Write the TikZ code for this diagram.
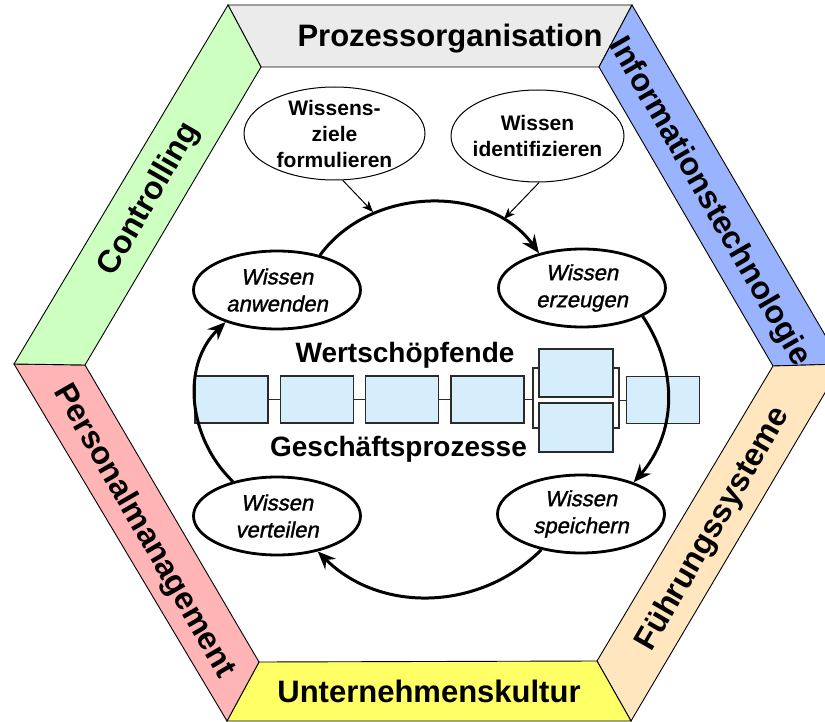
\documentclass[tikz,border=0pt]{standalone}
\usepackage{fontspec}
\setmainfont{Liberation Sans}
\newfontfamily\wisfont[FakeSlant=0.2,FakeBold=1.3]{Liberation Sans}
\usetikzlibrary{shapes.geometric,arrows.meta}
\definecolor{bandgray}{HTML}{EBEBEB}
\definecolor{bandblue}{HTML}{99B3FF}
\definecolor{bandpeach}{HTML}{FFE6BF}
\definecolor{bandyellow}{HTML}{FFFF66}
\definecolor{bandpink}{HTML}{FFB5B5}
\definecolor{bandgreen}{HTML}{CCFFC0}
\definecolor{procblue}{HTML}{D6EEFC}
\definecolor{procedge}{HTML}{2A2A2A}
\begin{document}
\begin{tikzpicture}[x=1pt,y=-1pt,
  band/.style={draw=black, line width=0.9pt, line join=miter},
  bandlabel/.style={font=\fontsize{31}{31}\selectfont\bfseries, text height=22pt, text depth=0pt, inner sep=0pt},
  sidelabel/.style={bandlabel, font=\fontsize{32}{32}\selectfont\bfseries},
  procbox/.style={draw=procedge, fill=procblue, line width=1.3pt, rectangle, inner sep=0pt, minimum width=73pt, minimum height=47pt},
  bracketbox/.style={draw=procedge, fill=white, line width=1.3pt, rectangle, inner sep=0pt},
  plink/.style={draw=procedge, line width=1pt},
  midtext/.style={font=\fontsize{28}{28}\selectfont\bfseries, inner sep=0pt, anchor=base},
  topell/.style={draw=black, fill=white, ellipse, line width=1pt, inner sep=0pt},
  toptext/.style={font=\fontsize{21}{26}\selectfont\bfseries, align=center, inner sep=0pt},
  wisell/.style={draw=black, fill=white, ellipse, line width=2.8pt, inner sep=0pt, minimum width=167pt, minimum height=78pt},
  wistext/.style={font=\fontsize{22}{27}\selectfont\wisfont, align=center, inner sep=0pt},
  cyc/.style={line width=3pt, -{Stealth[length=18pt, width=15pt, inset=6pt]}},
  thinarrow/.style={line width=1pt, -{Stealth[length=11pt, width=9pt, inset=3pt]}}
]
\useasboundingbox (0,0) rectangle (825,722);
\clip (0,0) rectangle (825,722);

% hexagon vertices
\coordinate (oTL) at (228,5);
\coordinate (oTR) at (632,5);
\coordinate (oR)  at (842,364);
\coordinate (oBR) at (631,721);
\coordinate (oBL) at (227,721);
\coordinate (oL)  at (14,364);
\coordinate (iTL) at (261,67);
\coordinate (iTR) at (599,67);
\coordinate (iR)  at (773,366);
\coordinate (iBR) at (597,661);
\coordinate (iBL) at (259,662);
\coordinate (iL)  at (85,365);

% bands
\draw[band, fill=bandgray]   (oTL) -- (oTR) -- (iTR) -- (iTL) -- cycle;
\draw[band, fill=bandblue]   (oTR) -- (oR) -- (iR) -- (iTR) -- cycle;
\draw[band, fill=bandpeach]  (oR) -- (oBR) -- (iBR) -- (iR) -- cycle;
\draw[band, fill=bandyellow] (oBR) -- (oBL) -- (iBL) -- (iBR) -- cycle;
\draw[band, fill=bandpink]   (oBL) -- (oL) -- (iL) -- (iBL) -- cycle;
\draw[band, fill=bandgreen]  (oL) -- (oTL) -- (iTL) -- (iL) -- cycle;

% band labels
\node[bandlabel] (lPO) at (450,36) {Prozessorganisation};
\node[sidelabel, rotate=-60] (lIT) at (711.5,200.5) {Informationstechnologie};
\node[sidelabel, rotate=60] (lFS) at (711,528) {Führungssysteme};
\node[bandlabel] (lUK) at (429,691) {Unternehmenskultur};
\node[sidelabel, rotate=-60] (lPM) at (146,530) {Personalmanagement};
\node[sidelabel, rotate=60] (lCT) at (147,198) {Controlling};

% process chain
\node[bracketbox, minimum width=86pt, minimum height=60pt] (br) at (576,398) {};
\node[procbox] (b1) at (231.5,399.5) {};
\node[procbox] (b2) at (317,399.5) {};
\node[procbox] (b3) at (402,399.5) {};
\node[procbox] (b4) at (487.5,399.5) {};
\node[procbox, minimum width=74pt, minimum height=48pt] (p1) at (576,373) {};
\node[procbox, minimum width=74pt, minimum height=49pt] (p2) at (576,427.5) {};
\node[procbox] (b6) at (663,400) {};
\draw[plink] (b1.east) -- (b2.west);
\draw[plink] (b2.east) -- (b3.west);
\draw[plink] (b3.east) -- (b4.west);
\draw[plink] (b4.east) -- (br.west |- b4.east);
\draw[plink] (br.east |- b6.west) -- (b6.west);

\node[midtext] (wt) at (405,362) {Wertschöpfende};
\node[midtext] (gp) at (398.5,456) {Geschäftsprozesse};

% top ellipses
\node[topell, minimum width=181pt, minimum height=93pt] (form) at (334.5,133.5) {};
\node[toptext] (formT) at (form) {Wissens-\\ziele\\formulieren};
\node[topell, minimum width=173pt, minimum height=92pt] (ident) at (537.5,136) {};
\node[toptext] (identT) at (ident) {Wissen\\identifizieren};

% cycle nodes
\node[wisell] (anw) at (277,290) {};
\node[wistext] (anwT) at (anw) {Wissen\\anwenden};
\node[wisell] (erz) at (582,288) {};
\node[wistext] (erzT) at (erz) {Wissen\\erzeugen};
\node[wisell] (spe) at (581,514) {};
\node[wistext] (speT) at (spe) {Wissen\\speichern};
\node[wisell] (ver) at (277,516) {};
\node[wistext] (verT) at (ver) {Wissen\\verteilen};

% cycle arrows
\draw[cyc] (anw.39) to[out=54,in=126] (erz.141);
\draw[cyc] (erz.-25) to[out=-56,in=49] (spe.31);
\draw[cyc] (spe.-138) to[out=-135,in=-45] (ver.-41);
\draw[cyc] (ver.142) to[out=136,in=-136] (anw.-148);

% thin arrows
\coordinate (t1) at (373,212);
\coordinate (t2) at (504,219);
\draw[thinarrow] (form.-80) -- (t1);
\draw[thinarrow] (ident.-88) -- (t2);
\end{tikzpicture}
\end{document}
